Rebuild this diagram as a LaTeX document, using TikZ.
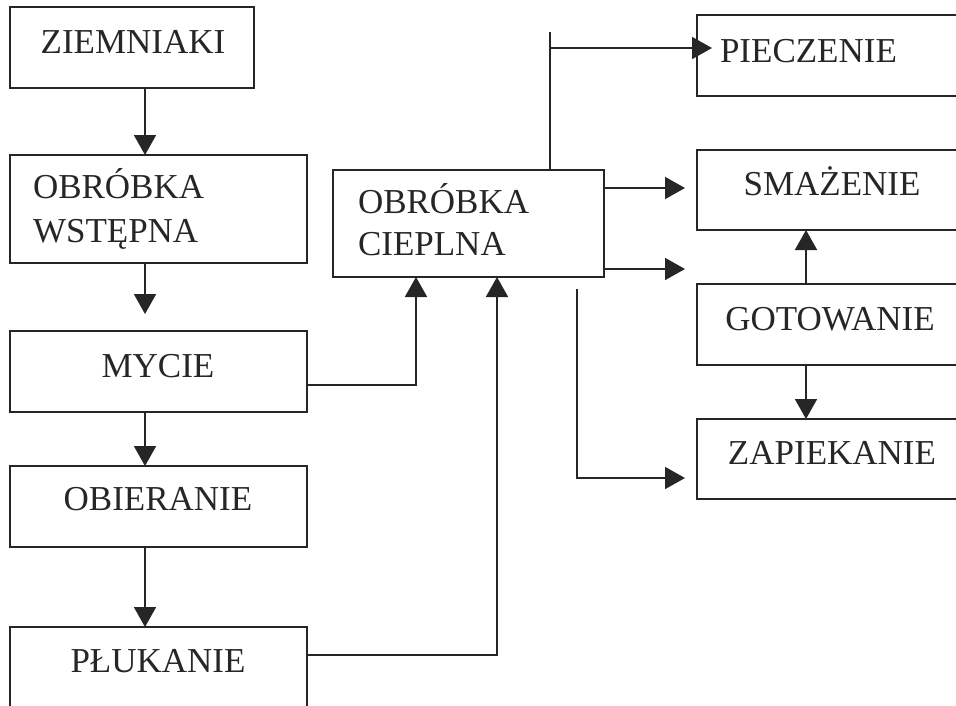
\documentclass[tikz,border=0pt]{standalone}
\usepackage{fontspec}
\setmainfont{Liberation Serif}
\usetikzlibrary{arrows.meta}
\begin{document}
\begin{tikzpicture}[x=1pt,y=-1pt,
  box/.style={draw=black!85, line width=1.8pt, inner sep=0pt, outer sep=0pt, anchor=north west},
  txt/.style={inner sep=0pt, outer sep=0pt, text=black!85, font=\fontsize{35}{40}\selectfont},
  arr/.style={draw=black!85, line width=1.8pt, -{Triangle[length=20pt,width=22pt]}},
  ln/.style={draw=black!85, line width=1.8pt}]
\useasboundingbox (0,0) rectangle (956,705);
\clip (0,0) rectangle (956,705);
% boxes
\node[box, minimum width=244pt, minimum height=81pt] (zie) at (10,7) {};
\node[box, minimum width=297pt, minimum height=108pt] (wst) at (10,155) {};
\node[box, minimum width=297pt, minimum height=81pt] (myc) at (10,331) {};
\node[box, minimum width=297pt, minimum height=81pt] (obi) at (10,466) {};
\node[box, minimum width=297pt, minimum height=110pt] (plu) at (10,627) {};
\node[box, minimum width=271pt, minimum height=107pt] (cie) at (333,170) {};
\node[box, minimum width=300pt, minimum height=81pt] (pie) at (697,15) {};
\node[box, minimum width=300pt, minimum height=80pt] (sma) at (697,150) {};
\node[box, minimum width=300pt, minimum height=81pt] (got) at (697,284) {};
\node[box, minimum width=300pt, minimum height=80pt] (zap) at (697,419) {};
% texts
\node[txt, anchor=base] (tzie) at (133,53) {ZIEMNIAKI};
\node[txt, anchor=base west] (twst1) at (33,198) {OBRÓBKA};
\node[txt, anchor=base west] (twst2) at (33,242) {WSTĘPNA};
\node[txt, anchor=base] (tmyc) at (158,377) {MYCIE};
\node[txt, anchor=base] (tobi) at (158,510) {OBIERANIE};
\node[txt, anchor=base] (tplu) at (158,672) {PŁUKANIE};
\node[txt, anchor=base west] (tcie1) at (358,213) {OBRÓBKA};
\node[txt, anchor=base west] (tcie2) at (358,255) {CIEPLNA};
\node[txt, anchor=base west] (tpie) at (720,62) {PIECZENIE};
\node[txt, anchor=base] (tsma) at (832,195) {SMAŻENIE};
\node[txt, anchor=base] (tgot) at (830,330) {GOTOWANIE};
\node[txt, anchor=base] (tzap) at (832,464) {ZAPIEKANIE};
% coordinates
\coordinate (cL) at (145,0);
\coordinate (e2) at (145,314);
\coordinate (cM) at (416,385);
\coordinate (cP) at (497,655);
\coordinate (sTop) at (550,32);
\coordinate (sMid) at (550,48);
\coordinate (pTip) at (712,48);
\coordinate (r1) at (685,188);
\coordinate (r2) at (685,269);
\coordinate (dTop) at (577,289);
\coordinate (dBot) at (577,478);
\coordinate (r3) at (685,478);
\coordinate (cG) at (806,0);
% left column connectors
\draw[arr] (zie.south -| cL) -- (wst.north -| cL);
\draw[arr] (wst.south -| cL) -- (e2);
\draw[arr] (myc.south -| cL) -- (obi.north -| cL);
\draw[arr] (obi.south -| cL) -- (plu.north -| cL);
% into heat treatment
\draw[arr] (myc.east |- cM) -- (cM) -- (cie.south -| cM);
\draw[arr] (plu.east |- cP) -- (cP) -- (cie.south -| cP);
% out of heat treatment
\draw[ln] (cie.north -| sTop) -- (sTop);
\draw[arr] (sMid) -- (pTip);
\draw[arr] (cie.east |- r1) -- (r1);
\draw[arr] (cie.east |- r2) -- (r2);
\draw[arr] (dTop) -- (dBot) -- (r3);
% right column
\draw[arr] (got.north -| cG) -- (sma.south -| cG);
\draw[arr] (got.south -| cG) -- (zap.north -| cG);
\end{tikzpicture}
\end{document}
